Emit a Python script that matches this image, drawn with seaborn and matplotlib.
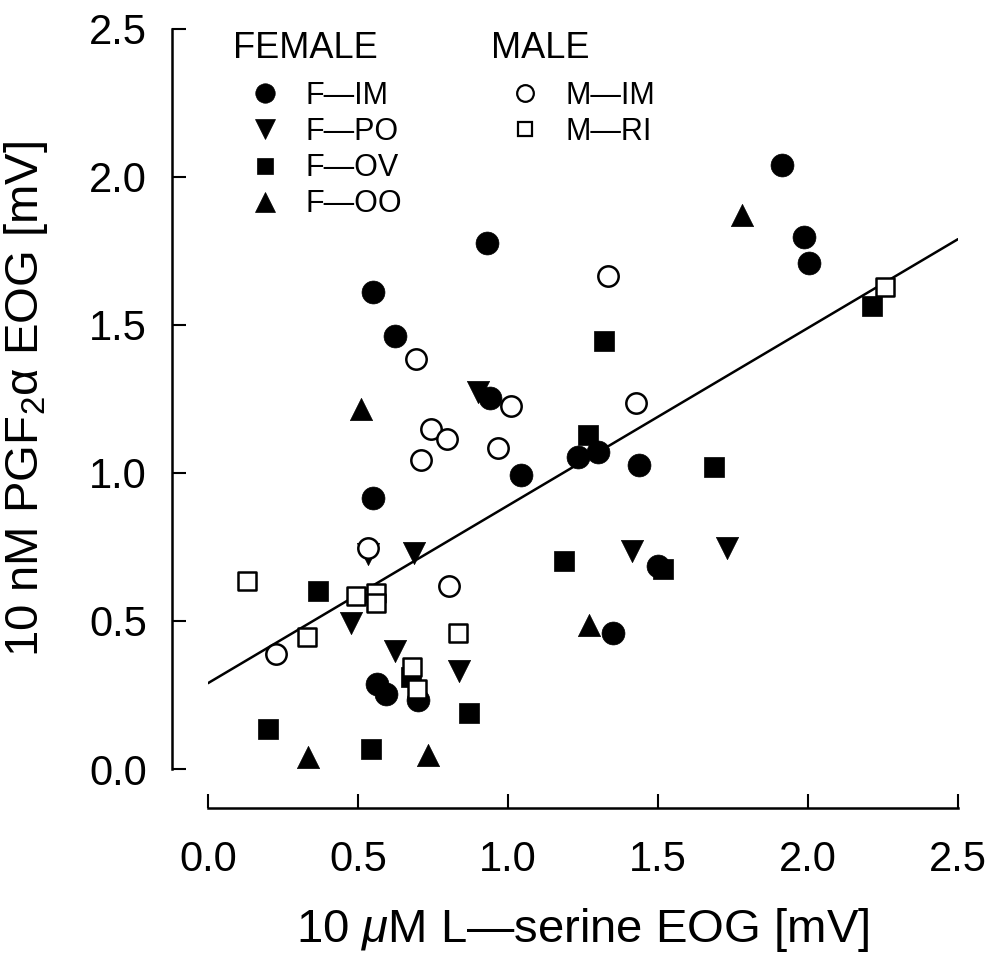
import numpy as np
import pandas as pd
import matplotlib
matplotlib.use("Agg")
import matplotlib.pyplot as plt
from matplotlib.lines import Line2D
import seaborn as sns

# F-IM: filled circles
fim_x = [0.929, 0.551, 0.623, 0.940, 1.042, 1.234, 1.299, 1.438, 0.549,
         1.912, 1.987, 2.003, 1.501, 1.351, 0.562, 0.592, 0.701]
fim_y = [1.778, 1.610, 1.462, 1.255, 0.992, 1.054, 1.070, 1.026, 0.914,
         2.040, 1.798, 1.708, 0.685, 0.461, 0.288, 0.254, 0.232]
# F-PO: down triangles
fpo_x = [0.901, 0.534, 0.688, 1.412, 1.729, 0.477, 0.623, 0.837]
fpo_y = [1.272, 0.725, 0.729, 0.735, 0.748, 0.494, 0.399, 0.332]
# F-OV: filled squares
fov_x = [1.321, 1.268, 1.688, 2.214, 1.187, 0.366, 0.676, 0.870, 0.199, 0.542, 1.515]
fov_y = [1.445, 1.127, 1.020, 1.563, 0.701, 0.600, 0.310, 0.189, 0.134, 0.069, 0.675]
# F-OO: up triangles
foo_x = [0.509, 1.779, 1.271, 0.332, 0.732]
foo_y = [1.216, 1.872, 0.487, 0.041, 0.047]
# M-IM: open circles
mim_x = [0.693, 1.009, 0.743, 0.796, 0.966, 0.709, 1.332, 1.427, 0.534, 0.804, 0.227]
mim_y = [1.384, 1.227, 1.147, 1.115, 1.085, 1.043, 1.667, 1.235, 0.746, 0.617, 0.388]
# M-RI: open squares
mri_x = [0.129, 0.493, 0.559, 0.559, 0.329, 0.832, 0.679, 0.696, 2.257]
mri_y = [0.634, 0.584, 0.595, 0.561, 0.447, 0.461, 0.343, 0.271, 1.630]

# regression line
fit_intercept = 0.29
fit_slope = 0.60

x_ticks = [0.0, 0.5, 1.0, 1.5, 2.0, 2.5]
y_ticks = [0.0, 0.5, 1.0, 1.5, 2.0, 2.5]

sns.set_style("ticks")
plt.rcParams['font.family'] = ['Liberation Sans', 'DejaVu Sans']
plt.rcParams['mathtext.fontset'] = 'custom'
plt.rcParams['mathtext.rm'] = 'Liberation Sans'
plt.rcParams['mathtext.it'] = 'Liberation Sans:italic'
for key in ['text.color', 'axes.labelcolor', 'xtick.color', 'ytick.color', 'axes.edgecolor']:
    plt.rcParams[key] = 'black'

fig = plt.figure(figsize=(10, 9.56), dpi=100)
ax = fig.add_axes([0.208, 0.1956, 0.75, 0.7741])

groups = [
    ('F-IM', fim_x, fim_y, 'o', 'black', 272),
    ('F-PO', fpo_x, fpo_y, 'v', 'black', 256),
    ('F-OV', fov_x, fov_y, 's', 'black', 190),
    ('F-OO', foo_x, foo_y, '^', 'black', 256),
    ('M-IM', mim_x, mim_y, 'o', 'white', 215),
    ('M-RI', mri_x, mri_y, 's', 'white', 160),
]

line_x = np.array([x_ticks[0], x_ticks[-1]])
line_df = pd.DataFrame({'x': line_x, 'y': fit_intercept + fit_slope * line_x})
sns.lineplot(data=line_df, x='x', y='y', color='black', linewidth=1.8, ax=ax, zorder=1)

for name, gx, gy, mk, fc, s in groups:
    df = pd.DataFrame({'x': gx, 'y': gy})
    sns.scatterplot(data=df, x='x', y='y', marker=mk, color=fc, edgecolor='black',
                    linewidth=1.8 if fc == 'white' else 0.5, s=s, ax=ax,
                    clip_on=False, zorder=3)

ax.set_xlim(0, 2.5)
ax.set_ylim(0, 2.5)
ax.set_xticks(x_ticks)
ax.set_yticks(y_ticks)
ax.set_xticklabels([f"{t:.1f}" for t in x_ticks])
ax.set_yticklabels([f"{t:.1f}" for t in y_ticks])

for side in ['top', 'right']:
    ax.spines[side].set_visible(False)
ax.spines['left'].set_position(('outward', 26))
ax.spines['bottom'].set_position(('outward', 28))
ax.spines['left'].set_linewidth(1.8)
ax.spines['bottom'].set_linewidth(1.8)
ax.tick_params(axis='both', direction='in', length=10, width=1.5,
               labelsize=30, color='black')
ax.tick_params(axis='y', pad=18)
ax.tick_params(axis='x', pad=23)

ax.set_xlabel(r'10 $\mu$M L—serine EOG [mV]', fontsize=34)
ax.set_ylabel(r'10 nM PGF$_{2}$α EOG [mV]', fontsize=34)
ax.xaxis.set_label_coords(0.5, -0.185)
ax.yaxis.set_label_coords(-0.21, 0.5)

# legend headings
fig.text(0.233, 1 - 49 / 956, 'FEMALE', fontsize=26, ha='left', va='center')
fig.text(0.491, 1 - 49 / 956, 'MALE', fontsize=26, ha='left', va='center')


def handle(mk, fc, ms):
    return Line2D([], [], linestyle='none', marker=mk, markerfacecolor=fc,
                  markeredgecolor='black', markeredgewidth=1.6 if fc == 'white' else 0.5,
                  markersize=ms)


female = [handle('o', 'black', 14), handle('v', 'black', 14),
          handle('s', 'black', 11), handle('^', 'black', 14)]
male = [handle('o', 'white', 12), handle('s', 'white', 10)]

leg1 = ax.legend(female, ['F—IM', 'F—PO', 'F—OV', 'F—OO'], fontsize=22,
                 loc='upper left', bbox_to_anchor=(0.231, 1 - 81 / 956),
                 bbox_transform=fig.transFigure, frameon=False, borderpad=0,
                 borderaxespad=0, handlelength=2.2, handletextpad=0.25,
                 labelspacing=0.2, numpoints=1)
ax.add_artist(leg1)
ax.legend(male, ['M—IM', 'M—RI'], fontsize=22,
          loc='upper left', bbox_to_anchor=(0.491, 1 - 81 / 956),
          bbox_transform=fig.transFigure, frameon=False, borderpad=0,
          borderaxespad=0, handlelength=2.2, handletextpad=0.25,
          labelspacing=0.2, numpoints=1)

fig.savefig('out.png', dpi=100)
